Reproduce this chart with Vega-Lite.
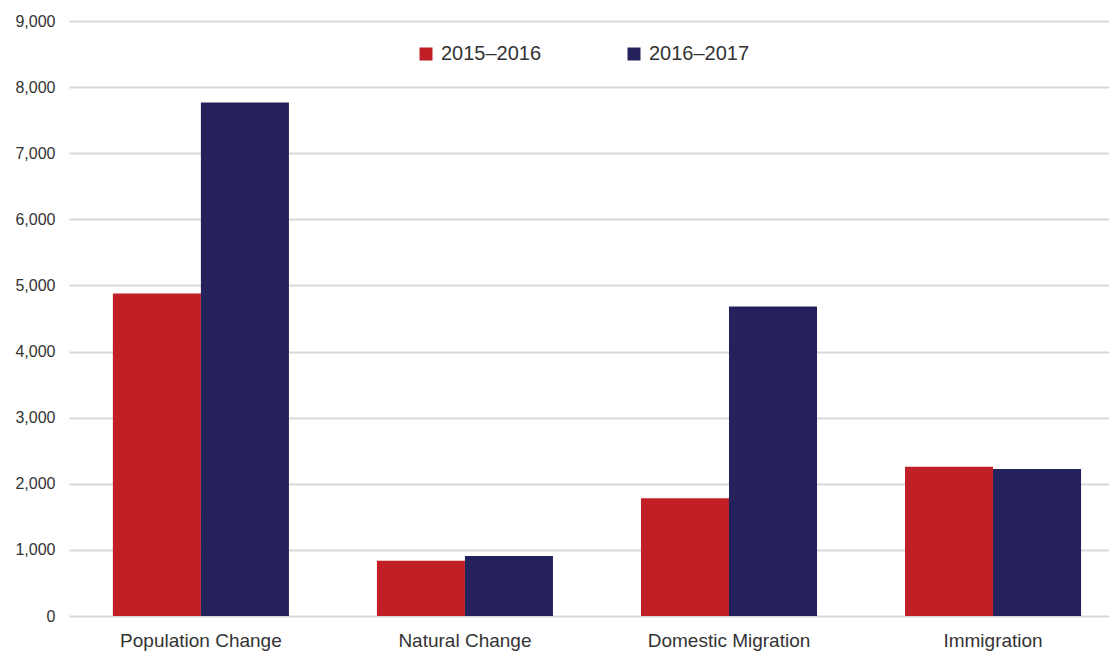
{
  "$schema": "https://vega.github.io/schema/vega-lite/v6.json",
  "autosize": {"type": "none"},
  "padding": {"left": 69, "top": 21, "right": 0, "bottom": 38},
  "width": 1040,
  "height": 595,
  "background": "white",
  "config": {
    "font": "Liberation Sans",
    "view": {"stroke": null}
  },
  "data": {
    "values": [
      {"category": "Population Change", "period": "2015–2016", "value": 4880},
      {"category": "Population Change", "period": "2016–2017", "value": 7766},
      {"category": "Natural Change", "period": "2015–2016", "value": 837},
      {"category": "Natural Change", "period": "2016–2017", "value": 908},
      {"category": "Domestic Migration", "period": "2015–2016", "value": 1781},
      {"category": "Domestic Migration", "period": "2016–2017", "value": 4680},
      {"category": "Immigration", "period": "2015–2016", "value": 2259},
      {"category": "Immigration", "period": "2016–2017", "value": 2224}
    ]
  },
  "mark": {"type": "bar"},
  "encoding": {
    "x": {
      "field": "category",
      "type": "nominal",
      "sort": null,
      "scale": {"paddingInner": 0.3333, "paddingOuter": 0.136, "align": 0.611},
      "axis": {
        "title": null,
        "labelAngle": 0,
        "domain": false,
        "ticks": false,
        "labelFontSize": 19,
        "labelColor": "#333333",
        "labelPadding": 15
      }
    },
    "xOffset": {"field": "period", "type": "nominal", "scale": {"paddingInner": 0}},
    "y": {
      "field": "value",
      "type": "quantitative",
      "scale": {"domain": [0, 9000], "nice": false},
      "axis": {
        "title": null,
        "values": [0, 1000, 2000, 3000, 4000, 5000, 6000, 7000, 8000, 9000],
        "format": ",.0f",
        "domain": false,
        "ticks": false,
        "labelFontSize": 16,
        "labelColor": "#333333",
        "labelPadding": 14,
        "gridColor": "#d9d9d9",
        "gridWidth": 2,
        "gridOpacity": 1
      }
    },
    "color": {
      "field": "period",
      "type": "nominal",
      "scale": {"domain": ["2015–2016", "2016–2017"], "range": ["#c01f25", "#24215c"]},
      "legend": {
        "title": null,
        "orient": "none",
        "legendX": 347,
        "legendY": 23,
        "direction": "horizontal",
        "columns": 2,
        "columnPadding": 82,
        "symbolType": "square",
        "symbolSize": 169,
        "symbolStrokeWidth": 0,
        "symbolOpacity": 1,
        "labelFontSize": 20,
        "labelColor": "#333333",
        "labelOffset": 5
      }
    }
  }
}
